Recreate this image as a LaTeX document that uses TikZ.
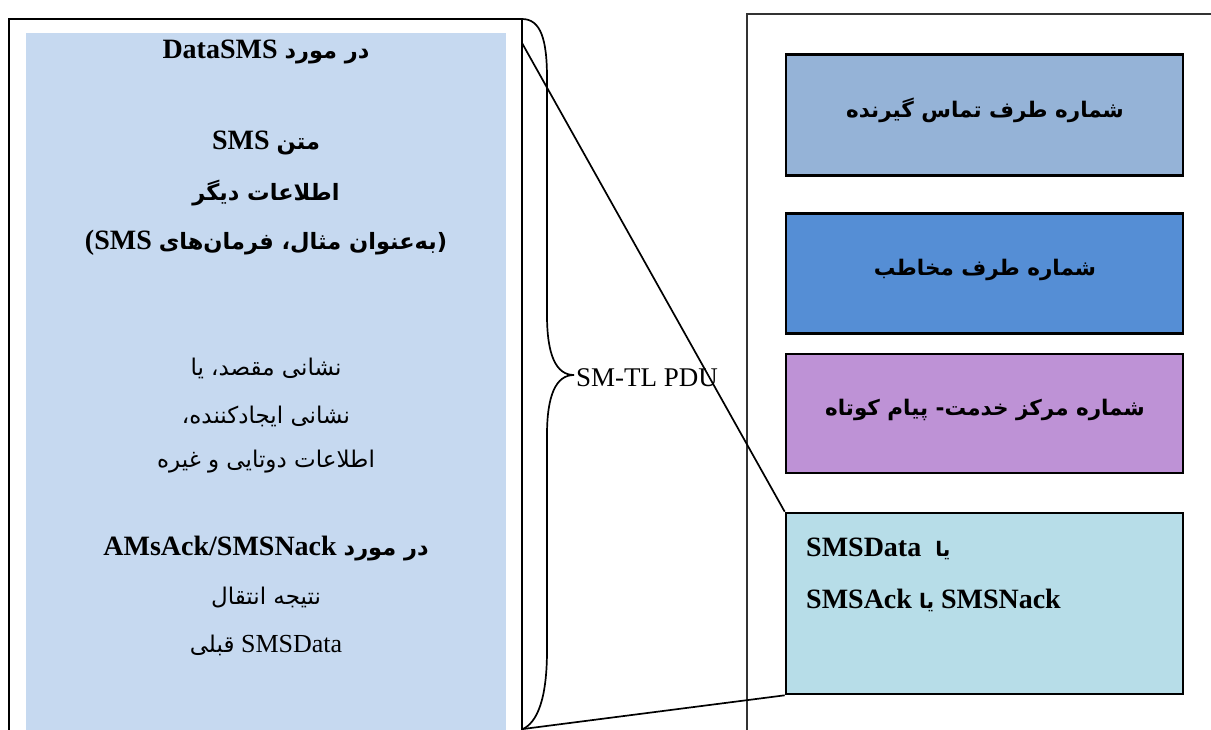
\documentclass[tikz,border=0pt]{standalone}
\usepackage{fontspec}
\setmainfont{Liberation Serif}
\newfontfamily\pfont[Script=Arabic]{DejaVu Sans}
\TeXXeTstate=1
\definecolor{pdublue}{HTML}{C6D9F0}
\definecolor{fieldA}{HTML}{95B3D7}
\definecolor{fieldB}{HTML}{558ED5}
\definecolor{fieldC}{HTML}{BE92D6}
\definecolor{fieldD}{HTML}{B7DDE8}
\newcommand\pbold{\pfont\fontsize{22.5}{27}\selectfont}
\newcommand\pplain{\pfont\fontsize{23}{27}\selectfont}
\newcommand\pfield{\pfont\fontsize{21.5}{26}\selectfont}
\tikzset{
  frame/.style={draw=black, line width=1.6pt},
  wire/.style={draw=black, line width=1.7pt},
  field/.style={draw=black, line width=2.6pt, minimum width=397pt, inner sep=0pt},
  boldline/.style={font=\fontsize{28}{32}\selectfont\bfseries, inner sep=0pt},
  plainline/.style={font=\fontsize{26}{30}\selectfont, inner sep=0pt},
  fieldtext/.style={font=\fontsize{28}{32}\selectfont\bfseries, inner sep=0pt},
}
\begin{document}
\begin{tikzpicture}[x=1pt, y=-1pt]
\useasboundingbox (0,0) rectangle (1211,729);

% left panel: SM-TL PDU contents
\draw[frame] (9,740) -- (9,19) -- (522,19) -- (522,740);
\fill[pdublue] (26,33) rectangle (506,740);
\coordinate (ptop) at (522,43);
\coordinate (pbot) at (523,729);

\node[boldline] (l1) at (266,52) {\beginR{\pbold در مورد} DataSMS\endR};
\node[boldline] (l2) at (266,143) {\beginR{\pbold متن} SMS\endR};
\node[boldline] (l3) at (266,193) {\pbold\beginR اطلاعات دیگر\endR};
\node[boldline] (l4) at (266,243) {\beginR{\pbold (به‌عنوان مثال، فرمان‌های} (SMS\endR};
\node[plainline] (l5) at (266,368) {\pplain\beginR نشانی مقصد، یا\endR};
\node[plainline] (l6) at (266,416) {\pplain\beginR نشانی ایجادکننده،\endR};
\node[plainline] (l7) at (266,462) {\pplain\beginR اطلاعات دوتایی و غیره\endR};
\node[boldline] (l8) at (266,549) {\beginR{\pbold در مورد} \beginL AMsAck/SMSNack\endL\endR};
\node[plainline] (l9) at (266,598) {\pplain\beginR نتیجه انتقال\endR};
\node[plainline] (l10) at (266,645) {\beginR SMSData {\pplain قبلی}\endR};

% brace grouping the left panel
\draw[wire] (522,19) .. controls (541,19) and (547,40) .. (547,78)
  -- (547,315) .. controls (547,355) and (556,375) .. (574,375)
  .. controls (556,375) and (547,395) .. (547,435)
  -- (547,650) .. controls (547,700) and (537,722) .. (523,729);
\node[font=\fontsize{27}{31}\selectfont, anchor=west, inner sep=0pt] (pdu) at (576,378) {SM-TL PDU};

% right panel: message fields
\draw[frame, draw=black!80, line width=1.3pt] (747,740) -- (747,14) -- (1215,14);
\node[field, fill=fieldA, minimum height=121pt] (f1) at (984.5,115) {};
\node[field, fill=fieldB, minimum height=120pt] (f2) at (984.5,273.5) {};
\node[field, fill=fieldC, minimum height=119pt] (f3) at (984.5,413.5) {};
\node[field, fill=fieldD, minimum height=181pt] (f4) at (984.5,603.5) {};

\node[fieldtext] (t1) at (985,110) {\pfield\beginR شماره طرف تماس گیرنده\endR};
\node[fieldtext] (t2) at (985,270) {\pfield\beginR شماره طرف مخاطب\endR};
\node[fieldtext] (t3) at (985,410) {\pfield\beginR شماره مرکز خدمت- پیام کوتاه\endR};
\node[fieldtext, anchor=west] (t4) at (806,549) {\beginR{\pfont\fontsize{20}{24}\selectfont یا}\ \ SMSData\endR};
\node[fieldtext, anchor=west] (t5) at (806,600) {\beginR SMSNack {\pfont\fontsize{20}{24}\selectfont یا} SMSAck\endR};

% connectors from the panel to the data field
\draw[wire] (ptop) -- (f4.north west);
\draw[wire] (pbot) -- (f4.south west);
\end{tikzpicture}
\end{document}
